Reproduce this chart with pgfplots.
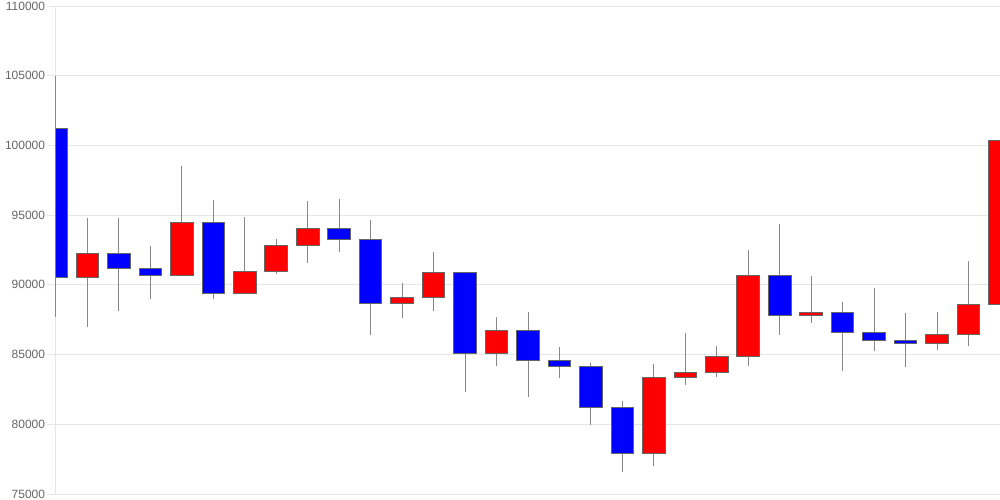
\documentclass[border=0pt]{standalone}
\usepackage{pgfplots}
\usepackage{pgfplotstable}
\pgfplotsset{compat=1.18}
\usepackage{fontspec}
\setmainfont{Liberation Sans}
\definecolor{gridc}{HTML}{E6E6E6}
\definecolor{labc}{HTML}{666666}
\definecolor{wickc}{HTML}{888888}
\definecolor{edgec}{HTML}{666666}
\definecolor{upc}{HTML}{FF0000}
\definecolor{dnc}{HTML}{0000FF}
\pgfplotstableread{
x open high low close
0 101230 105000 87720 90510
1 90510 94800 87000 92260
2 92260 94800 88150 91190
3 91190 92790 88960 90690
4 90690 98550 90690 94490
5 94490 96090 88960 89400
6 89400 94870 89400 90970
7 90970 93310 90780 92840
8 92840 96020 91550 94060
9 94060 96140 92380 93220
10 93220 94650 86430 88650
11 88650 90130 87650 89060
12 89060 92360 88150 90900
13 90900 90900 82300 85110
14 85110 87670 84200 86760
15 86760 88030 81980 84590
16 84590 85540 83320 84160
17 84160 84380 79970 81220
18 81220 81670 76600 77870
19 77870 84320 77030 83390
20 83390 86570 82820 83680
21 83680 85620 83410 84880
22 84880 92500 84200 90690
23 90690 94370 86430 87820
24 87820 90610 87240 88050
25 88050 88770 83820 86570
26 86570 89780 85280 86020
27 86020 87960 84130 85760
28 85760 88050 85350 86430
29 86430 91690 85640 88610
30 88610 103550 88610 100370
}\candles
\pgfplotsset{common/.style={
  at={(0,0)}, anchor=south west,
  scale only axis, width=708pt, height=366pt,
  xmin=0, xmax=30, ymin=75000, ymax=110000,
  clip=true,
}}
\begin{document}
\begin{tikzpicture}
\useasboundingbox (-42pt,-4.5pt) rectangle (708pt,370.5pt);
\begin{axis}[
  common,
  axis x line*=bottom, axis y line*=left,
  axis line style={gridc, line width=0.75pt, -},
  xtick=\empty,
  ytick={75000,80000,85000,90000,95000,100000,105000,110000},
  yticklabels={75000,80000,85000,90000,95000,100000,105000,110000},
  ymajorgrids, grid style={gridc, line width=0.75pt},
  major tick length=7pt, tick align=outside,
  y tick style={gridc, line width=0.75pt},
  scaled y ticks=false,
  y tick label style={font=\fontsize{9}{10}\selectfont, text=labc, inner xsep=1pt},
]
\end{axis}
\begin{axis}[common, hide axis, clip=false]
\addplot[draw=none, mark=none,
  error bars/.cd, y dir=plus, y explicit, error mark=none,
  error bar style={draw=wickc, line width=0.75pt}]
  table[x=x, y=low, y error plus expr=\thisrow{high}-\thisrow{low}] {\candles};
\end{axis}
\begin{axis}[
  common, hide axis,
  ybar stacked, bar width=0.72,
]
\addplot[draw=none, fill=none] table[x=x, y expr={min(\thisrow{open},\thisrow{close})}] {\candles};
\addplot[fill=upc, draw=edgec, line width=0.75pt] table[x=x, y expr={max(\thisrow{close}-\thisrow{open},0)}] {\candles};
\addplot[fill=dnc, draw=edgec, line width=0.75pt] table[x=x, y expr={max(\thisrow{open}-\thisrow{close},0)}] {\candles};
\end{axis}
\end{tikzpicture}
\end{document}
